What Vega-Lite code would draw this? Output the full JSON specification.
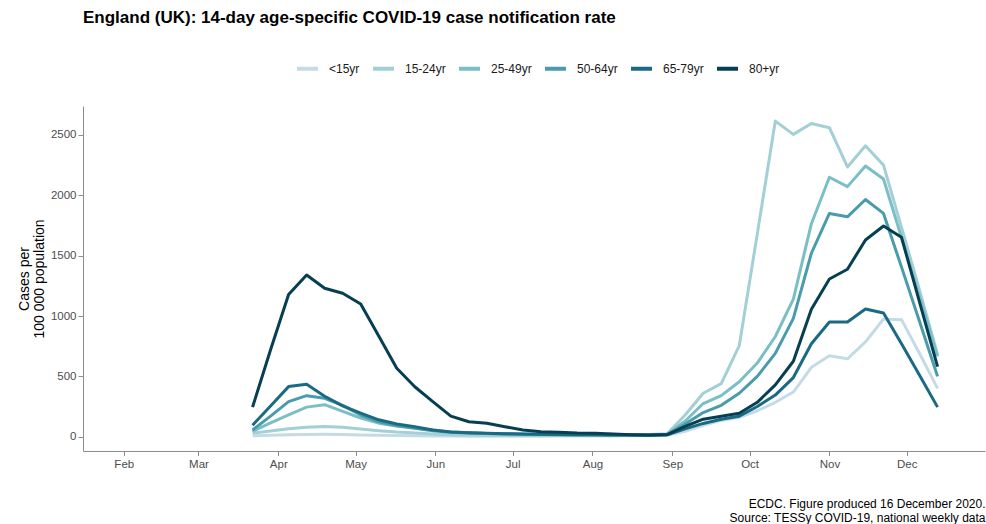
{
  "$schema": "https://vega.github.io/schema/vega-lite/v6.json",
  "width": 902,
  "height": 345,
  "autosize": {"type": "none"},
  "padding": {"left": 83, "top": 106, "right": 1, "bottom": 73},
  "background": "white",
  "title": {
    "text": "England (UK): 14-day age-specific COVID-19 case notification rate",
    "anchor": "start",
    "frame": "group",
    "font": "Liberation Sans",
    "fontSize": 17,
    "fontWeight": "bold",
    "color": "#000000",
    "offset": 29
  },
  "config": {
    "view": {"stroke": null},
    "font": "Liberation Sans",
    "axis": {
      "grid": false,
      "domainColor": "#8c8c8c",
      "tickColor": "#8c8c8c",
      "labelColor": "#4d4d4d",
      "labelFont": "Liberation Sans",
      "labelFontSize": 11.5,
      "titleFont": "Liberation Sans",
      "titleFontWeight": "normal",
      "titleColor": "#000000"
    }
  },
  "data": {
    "values": [
      {"date":"2020-03-22","age":"<15yr","rate":8},
      {"date":"2020-03-29","age":"<15yr","rate":12},
      {"date":"2020-04-05","age":"<15yr","rate":16},
      {"date":"2020-04-12","age":"<15yr","rate":19},
      {"date":"2020-04-19","age":"<15yr","rate":20},
      {"date":"2020-04-26","age":"<15yr","rate":18},
      {"date":"2020-05-03","age":"<15yr","rate":15},
      {"date":"2020-05-10","age":"<15yr","rate":12},
      {"date":"2020-05-17","age":"<15yr","rate":10},
      {"date":"2020-05-24","age":"<15yr","rate":8},
      {"date":"2020-05-31","age":"<15yr","rate":6},
      {"date":"2020-06-07","age":"<15yr","rate":5},
      {"date":"2020-06-14","age":"<15yr","rate":4},
      {"date":"2020-06-21","age":"<15yr","rate":4},
      {"date":"2020-06-28","age":"<15yr","rate":4},
      {"date":"2020-07-05","age":"<15yr","rate":4},
      {"date":"2020-07-12","age":"<15yr","rate":4},
      {"date":"2020-07-19","age":"<15yr","rate":5},
      {"date":"2020-07-26","age":"<15yr","rate":5},
      {"date":"2020-08-02","age":"<15yr","rate":5},
      {"date":"2020-08-09","age":"<15yr","rate":6},
      {"date":"2020-08-16","age":"<15yr","rate":7},
      {"date":"2020-08-23","age":"<15yr","rate":8},
      {"date":"2020-08-30","age":"<15yr","rate":12},
      {"date":"2020-09-06","age":"<15yr","rate":45},
      {"date":"2020-09-13","age":"<15yr","rate":95},
      {"date":"2020-09-20","age":"<15yr","rate":135},
      {"date":"2020-09-27","age":"<15yr","rate":160},
      {"date":"2020-10-04","age":"<15yr","rate":215},
      {"date":"2020-10-11","age":"<15yr","rate":285},
      {"date":"2020-10-18","age":"<15yr","rate":370},
      {"date":"2020-10-25","age":"<15yr","rate":575},
      {"date":"2020-11-01","age":"<15yr","rate":670},
      {"date":"2020-11-08","age":"<15yr","rate":645},
      {"date":"2020-11-15","age":"<15yr","rate":785},
      {"date":"2020-11-22","age":"<15yr","rate":975},
      {"date":"2020-11-29","age":"<15yr","rate":970},
      {"date":"2020-12-06","age":"<15yr","rate":690},
      {"date":"2020-12-13","age":"<15yr","rate":400},

      {"date":"2020-03-22","age":"15-24yr","rate":30},
      {"date":"2020-03-29","age":"15-24yr","rate":48},
      {"date":"2020-04-05","age":"15-24yr","rate":65},
      {"date":"2020-04-12","age":"15-24yr","rate":78},
      {"date":"2020-04-19","age":"15-24yr","rate":85},
      {"date":"2020-04-26","age":"15-24yr","rate":78},
      {"date":"2020-05-03","age":"15-24yr","rate":64},
      {"date":"2020-05-10","age":"15-24yr","rate":50},
      {"date":"2020-05-17","age":"15-24yr","rate":38},
      {"date":"2020-05-24","age":"15-24yr","rate":30},
      {"date":"2020-05-31","age":"15-24yr","rate":22},
      {"date":"2020-06-07","age":"15-24yr","rate":17},
      {"date":"2020-06-14","age":"15-24yr","rate":14},
      {"date":"2020-06-21","age":"15-24yr","rate":12},
      {"date":"2020-06-28","age":"15-24yr","rate":11},
      {"date":"2020-07-05","age":"15-24yr","rate":10},
      {"date":"2020-07-12","age":"15-24yr","rate":10},
      {"date":"2020-07-19","age":"15-24yr","rate":10},
      {"date":"2020-07-26","age":"15-24yr","rate":11},
      {"date":"2020-08-02","age":"15-24yr","rate":12},
      {"date":"2020-08-09","age":"15-24yr","rate":13},
      {"date":"2020-08-16","age":"15-24yr","rate":15},
      {"date":"2020-08-23","age":"15-24yr","rate":18},
      {"date":"2020-08-30","age":"15-24yr","rate":25},
      {"date":"2020-09-06","age":"15-24yr","rate":180},
      {"date":"2020-09-13","age":"15-24yr","rate":360},
      {"date":"2020-09-20","age":"15-24yr","rate":440},
      {"date":"2020-09-27","age":"15-24yr","rate":755},
      {"date":"2020-10-04","age":"15-24yr","rate":1680},
      {"date":"2020-10-11","age":"15-24yr","rate":2615},
      {"date":"2020-10-18","age":"15-24yr","rate":2505},
      {"date":"2020-10-25","age":"15-24yr","rate":2595},
      {"date":"2020-11-01","age":"15-24yr","rate":2560},
      {"date":"2020-11-08","age":"15-24yr","rate":2235},
      {"date":"2020-11-15","age":"15-24yr","rate":2410},
      {"date":"2020-11-22","age":"15-24yr","rate":2250},
      {"date":"2020-11-29","age":"15-24yr","rate":1735},
      {"date":"2020-12-06","age":"15-24yr","rate":1215},
      {"date":"2020-12-13","age":"15-24yr","rate":680},

      {"date":"2020-03-22","age":"25-49yr","rate":45},
      {"date":"2020-03-29","age":"25-49yr","rate":115},
      {"date":"2020-04-05","age":"25-49yr","rate":180},
      {"date":"2020-04-12","age":"25-49yr","rate":245},
      {"date":"2020-04-19","age":"25-49yr","rate":265},
      {"date":"2020-04-26","age":"25-49yr","rate":210},
      {"date":"2020-05-03","age":"25-49yr","rate":155},
      {"date":"2020-05-10","age":"25-49yr","rate":112},
      {"date":"2020-05-17","age":"25-49yr","rate":88},
      {"date":"2020-05-24","age":"25-49yr","rate":72},
      {"date":"2020-05-31","age":"25-49yr","rate":55},
      {"date":"2020-06-07","age":"25-49yr","rate":40},
      {"date":"2020-06-14","age":"25-49yr","rate":32},
      {"date":"2020-06-21","age":"25-49yr","rate":27},
      {"date":"2020-06-28","age":"25-49yr","rate":24},
      {"date":"2020-07-05","age":"25-49yr","rate":21},
      {"date":"2020-07-12","age":"25-49yr","rate":19},
      {"date":"2020-07-19","age":"25-49yr","rate":18},
      {"date":"2020-07-26","age":"25-49yr","rate":17},
      {"date":"2020-08-02","age":"25-49yr","rate":16},
      {"date":"2020-08-09","age":"25-49yr","rate":15},
      {"date":"2020-08-16","age":"25-49yr","rate":15},
      {"date":"2020-08-23","age":"25-49yr","rate":16},
      {"date":"2020-08-30","age":"25-49yr","rate":20},
      {"date":"2020-09-06","age":"25-49yr","rate":130},
      {"date":"2020-09-13","age":"25-49yr","rate":275},
      {"date":"2020-09-20","age":"25-49yr","rate":340},
      {"date":"2020-09-27","age":"25-49yr","rate":455},
      {"date":"2020-10-04","age":"25-49yr","rate":610},
      {"date":"2020-10-11","age":"25-49yr","rate":830},
      {"date":"2020-10-18","age":"25-49yr","rate":1140},
      {"date":"2020-10-25","age":"25-49yr","rate":1765},
      {"date":"2020-11-01","age":"25-49yr","rate":2150},
      {"date":"2020-11-08","age":"25-49yr","rate":2072},
      {"date":"2020-11-15","age":"25-49yr","rate":2243},
      {"date":"2020-11-22","age":"25-49yr","rate":2135},
      {"date":"2020-11-29","age":"25-49yr","rate":1650},
      {"date":"2020-12-06","age":"25-49yr","rate":1160},
      {"date":"2020-12-13","age":"25-49yr","rate":665},

      {"date":"2020-03-22","age":"50-64yr","rate":55},
      {"date":"2020-03-29","age":"50-64yr","rate":170},
      {"date":"2020-04-05","age":"50-64yr","rate":290},
      {"date":"2020-04-12","age":"50-64yr","rate":340},
      {"date":"2020-04-19","age":"50-64yr","rate":318},
      {"date":"2020-04-26","age":"50-64yr","rate":260},
      {"date":"2020-05-03","age":"50-64yr","rate":180},
      {"date":"2020-05-10","age":"50-64yr","rate":124},
      {"date":"2020-05-17","age":"50-64yr","rate":90},
      {"date":"2020-05-24","age":"50-64yr","rate":70},
      {"date":"2020-05-31","age":"50-64yr","rate":50},
      {"date":"2020-06-07","age":"50-64yr","rate":36},
      {"date":"2020-06-14","age":"50-64yr","rate":30},
      {"date":"2020-06-21","age":"50-64yr","rate":26},
      {"date":"2020-06-28","age":"50-64yr","rate":23},
      {"date":"2020-07-05","age":"50-64yr","rate":20},
      {"date":"2020-07-12","age":"50-64yr","rate":18},
      {"date":"2020-07-19","age":"50-64yr","rate":17},
      {"date":"2020-07-26","age":"50-64yr","rate":16},
      {"date":"2020-08-02","age":"50-64yr","rate":15},
      {"date":"2020-08-09","age":"50-64yr","rate":14},
      {"date":"2020-08-16","age":"50-64yr","rate":14},
      {"date":"2020-08-23","age":"50-64yr","rate":14},
      {"date":"2020-08-30","age":"50-64yr","rate":18},
      {"date":"2020-09-06","age":"50-64yr","rate":105},
      {"date":"2020-09-13","age":"50-64yr","rate":200},
      {"date":"2020-09-20","age":"50-64yr","rate":260},
      {"date":"2020-09-27","age":"50-64yr","rate":360},
      {"date":"2020-10-04","age":"50-64yr","rate":500},
      {"date":"2020-10-11","age":"50-64yr","rate":690},
      {"date":"2020-10-18","age":"50-64yr","rate":980},
      {"date":"2020-10-25","age":"50-64yr","rate":1520},
      {"date":"2020-11-01","age":"50-64yr","rate":1850},
      {"date":"2020-11-08","age":"50-64yr","rate":1822},
      {"date":"2020-11-15","age":"50-64yr","rate":1965},
      {"date":"2020-11-22","age":"50-64yr","rate":1850},
      {"date":"2020-11-29","age":"50-64yr","rate":1405},
      {"date":"2020-12-06","age":"50-64yr","rate":955},
      {"date":"2020-12-13","age":"50-64yr","rate":500},

      {"date":"2020-03-22","age":"65-79yr","rate":95},
      {"date":"2020-03-29","age":"65-79yr","rate":255},
      {"date":"2020-04-05","age":"65-79yr","rate":415},
      {"date":"2020-04-12","age":"65-79yr","rate":435},
      {"date":"2020-04-19","age":"65-79yr","rate":335},
      {"date":"2020-04-26","age":"65-79yr","rate":255},
      {"date":"2020-05-03","age":"65-79yr","rate":195},
      {"date":"2020-05-10","age":"65-79yr","rate":140},
      {"date":"2020-05-17","age":"65-79yr","rate":105},
      {"date":"2020-05-24","age":"65-79yr","rate":82},
      {"date":"2020-05-31","age":"65-79yr","rate":55},
      {"date":"2020-06-07","age":"65-79yr","rate":38},
      {"date":"2020-06-14","age":"65-79yr","rate":32},
      {"date":"2020-06-21","age":"65-79yr","rate":28},
      {"date":"2020-06-28","age":"65-79yr","rate":25},
      {"date":"2020-07-05","age":"65-79yr","rate":22},
      {"date":"2020-07-12","age":"65-79yr","rate":20},
      {"date":"2020-07-19","age":"65-79yr","rate":18},
      {"date":"2020-07-26","age":"65-79yr","rate":17},
      {"date":"2020-08-02","age":"65-79yr","rate":16},
      {"date":"2020-08-09","age":"65-79yr","rate":15},
      {"date":"2020-08-16","age":"65-79yr","rate":14},
      {"date":"2020-08-23","age":"65-79yr","rate":13},
      {"date":"2020-08-30","age":"65-79yr","rate":15},
      {"date":"2020-09-06","age":"65-79yr","rate":65},
      {"date":"2020-09-13","age":"65-79yr","rate":110},
      {"date":"2020-09-20","age":"65-79yr","rate":145},
      {"date":"2020-09-27","age":"65-79yr","rate":170},
      {"date":"2020-10-04","age":"65-79yr","rate":250},
      {"date":"2020-10-11","age":"65-79yr","rate":345},
      {"date":"2020-10-18","age":"65-79yr","rate":490},
      {"date":"2020-10-25","age":"65-79yr","rate":770},
      {"date":"2020-11-01","age":"65-79yr","rate":950},
      {"date":"2020-11-08","age":"65-79yr","rate":950},
      {"date":"2020-11-15","age":"65-79yr","rate":1058},
      {"date":"2020-11-22","age":"65-79yr","rate":1025},
      {"date":"2020-11-29","age":"65-79yr","rate":770},
      {"date":"2020-12-06","age":"65-79yr","rate":510},
      {"date":"2020-12-13","age":"65-79yr","rate":245},

      {"date":"2020-03-22","age":"80+yr","rate":245},
      {"date":"2020-03-29","age":"80+yr","rate":720},
      {"date":"2020-04-05","age":"80+yr","rate":1178},
      {"date":"2020-04-12","age":"80+yr","rate":1340},
      {"date":"2020-04-19","age":"80+yr","rate":1230},
      {"date":"2020-04-26","age":"80+yr","rate":1188},
      {"date":"2020-05-03","age":"80+yr","rate":1100},
      {"date":"2020-05-10","age":"80+yr","rate":835},
      {"date":"2020-05-17","age":"80+yr","rate":567},
      {"date":"2020-05-24","age":"80+yr","rate":414},
      {"date":"2020-05-31","age":"80+yr","rate":290},
      {"date":"2020-06-07","age":"80+yr","rate":171},
      {"date":"2020-06-14","age":"80+yr","rate":124},
      {"date":"2020-06-21","age":"80+yr","rate":111},
      {"date":"2020-06-28","age":"80+yr","rate":83},
      {"date":"2020-07-05","age":"80+yr","rate":55},
      {"date":"2020-07-12","age":"80+yr","rate":41},
      {"date":"2020-07-19","age":"80+yr","rate":36},
      {"date":"2020-07-26","age":"80+yr","rate":30},
      {"date":"2020-08-02","age":"80+yr","rate":28},
      {"date":"2020-08-09","age":"80+yr","rate":22},
      {"date":"2020-08-16","age":"80+yr","rate":17},
      {"date":"2020-08-23","age":"80+yr","rate":14},
      {"date":"2020-08-30","age":"80+yr","rate":18},
      {"date":"2020-09-06","age":"80+yr","rate":85},
      {"date":"2020-09-13","age":"80+yr","rate":145},
      {"date":"2020-09-20","age":"80+yr","rate":170},
      {"date":"2020-09-27","age":"80+yr","rate":195},
      {"date":"2020-10-04","age":"80+yr","rate":285},
      {"date":"2020-10-11","age":"80+yr","rate":430},
      {"date":"2020-10-18","age":"80+yr","rate":625},
      {"date":"2020-10-25","age":"80+yr","rate":1056},
      {"date":"2020-11-01","age":"80+yr","rate":1307},
      {"date":"2020-11-08","age":"80+yr","rate":1387},
      {"date":"2020-11-15","age":"80+yr","rate":1630},
      {"date":"2020-11-22","age":"80+yr","rate":1746},
      {"date":"2020-11-29","age":"80+yr","rate":1652},
      {"date":"2020-12-06","age":"80+yr","rate":1115},
      {"date":"2020-12-13","age":"80+yr","rate":580}
    ]
  },
  "mark": {"type": "line", "strokeWidth": 3, "strokeJoin": "round"},
  "encoding": {
    "x": {
      "field": "date",
      "type": "temporal",
      "scale": {"domain": ["2020-01-16T04:00:00", "2020-12-31T10:00:00"]},
      "axis": {
        "format": "%b",
        "tickCount": {"interval": "month", "step": 1},
        "tickSize": 4.5,
        "labelPadding": 3,
        "title": ["ECDC. Figure produced 16 December 2020.", "Source: TESSy COVID-19, national weekly data"],
        "titleAnchor": "end",
        "titleAlign": "right",
        "titleFontSize": 12,
        "titleLineHeight": 14.5,
        "titlePadding": 28
      }
    },
    "y": {
      "field": "rate",
      "type": "quantitative",
      "scale": {"domain": [-118.5, 2740], "nice": false, "zero": false},
      "axis": {
        "values": [0, 500, 1000, 1500, 2000, 2500],
        "format": "d",
        "tickSize": 5,
        "labelPadding": 2,
        "title": ["Cases per", "100 000 population"],
        "titleFontSize": 14,
        "titleLineHeight": 14.5,
        "titlePadding": 4
      }
    },
    "color": {
      "field": "age",
      "type": "nominal",
      "scale": {
        "domain": ["<15yr", "15-24yr", "25-49yr", "50-64yr", "65-79yr", "80+yr"],
        "range": ["#c4dbe6", "#a3cfd6", "#7bbfc6", "#4a9cac", "#1b6a84", "#073f52"]
      },
      "legend": {
        "title": null,
        "orient": "none",
        "direction": "horizontal",
        "columns": 6,
        "legendX": 212,
        "legendY": -50,
        "symbolType": "stroke",
        "symbolSize": 441,
        "symbolStrokeWidth": 4,
        "labelFont": "Liberation Sans",
        "labelFontSize": 12,
        "labelColor": "#1a1a1a",
        "labelOffset": 9,
        "columnPadding": 5
      }
    }
  }
}
